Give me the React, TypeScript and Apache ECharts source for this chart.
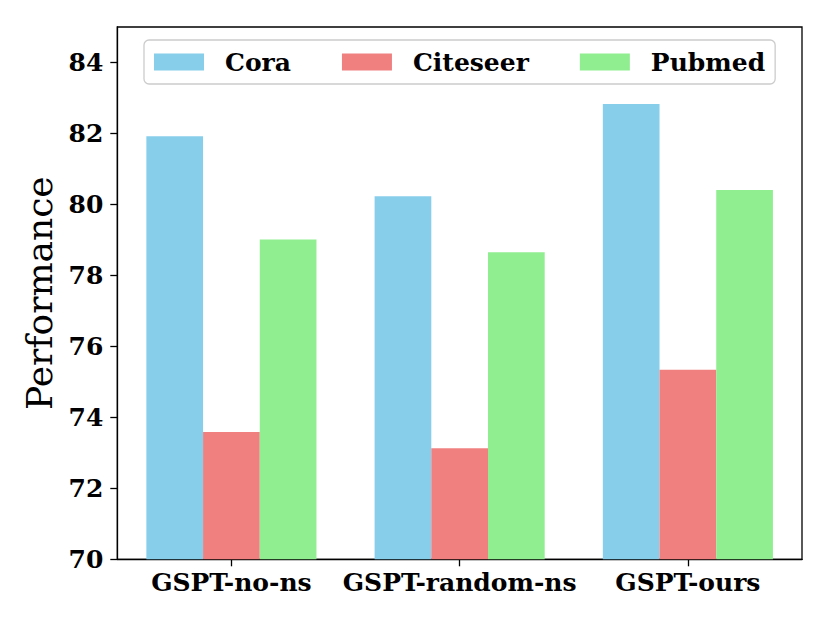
import React, { useEffect, useRef } from "react";
import * as echarts from "echarts";

const categories = ["GSPT-no-ns", "GSPT-random-ns", "GSPT-ours"];
const seriesNames = ["Cora", "Citeseer", "Pubmed"];
const cora = [81.92, 80.23, 82.83];
const citeseer = [73.59, 73.13, 75.34];
const pubmed = [79.01, 78.65, 80.41];
const yTicks = [70, 72, 74, 76, 78, 80, 82, 84];
const colors = ["#87CEEB", "#F08080", "#90EE90"];

const FONT = "'DejaVu Serif', serif";

export default function App() {
  const ref = useRef<HTMLDivElement>(null);
  useEffect(() => {
    if (!ref.current) return;
    const chart = echarts.init(ref.current, null, { renderer: "svg" });
    const values = [cora, citeseer, pubmed];
    chart.setOption({
      animation: false,
      backgroundColor: "#ffffff",
      grid: {
        left: 117.3,
        right: 28,
        top: 27,
        bottom: 63.7,
        show: true,
        borderColor: "#000",
        borderWidth: 1.3,
        backgroundColor: "transparent",
      },
      legend: {
        data: seriesNames,
        left: 144,
        top: 40,
        itemWidth: 50,
        itemHeight: 17,
        itemGap: 51,
        padding: [9.5, 10],
        borderColor: "#cccccc",
        borderWidth: 1.3,
        borderRadius: 5,
        backgroundColor: "rgba(255,255,255,0.8)",
        icon: "rect",
        textStyle: {
          fontFamily: FONT,
          fontWeight: "bold",
          fontSize: 25,
          color: "#000",
          padding: [0, 0, 0, 16],
        },
      },
      xAxis: {
        type: "category",
        data: categories,
        axisLine: { show: true, lineStyle: { color: "#000", width: 1.3 } },
        axisTick: { show: true, alignWithLabel: true, length: 7, lineStyle: { color: "#000", width: 1.3 } },
        axisLabel: {
          interval: 0,
          fontFamily: FONT,
          fontWeight: "bold",
          fontSize: 25,
          color: "#000",
          margin: 11,
        },
        splitLine: { show: false },
      },
      yAxis: {
        type: "value",
        min: 70,
        max: 85,
        interval: 2,
        name: "Performance",
        nameLocation: "middle",
        nameRotate: 90,
        nameGap: 52,
        nameTextStyle: {
          fontFamily: FONT,
          fontSize: 36,
          color: "#000",
        },
        axisLine: { show: true, lineStyle: { color: "#000", width: 1.3 } },
        axisTick: { show: true, length: 7, customValues: yTicks, lineStyle: { color: "#000", width: 1.3 } },
        axisLabel: {
          customValues: yTicks,
          fontFamily: FONT,
          fontWeight: "bold",
          fontSize: 25,
          color: "#000",
          margin: 14,
        },
        splitLine: { show: false },
      },
      series: seriesNames.map((name, i) => ({
        name,
        type: "bar",
        data: values[i],
        barWidth: 56.7,
        barGap: "0%",
        itemStyle: { color: colors[i] },
      })),
    });
    return () => chart.dispose();
  }, []);
  return (
    <div
      ref={ref}
      style={{ position: "fixed", left: 0, top: 0, width: 830, height: 623, background: "#fff" }}
    />
  );
}
